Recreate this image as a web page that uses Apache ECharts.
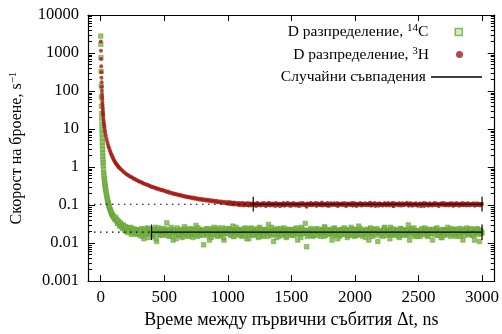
<!DOCTYPE html>
<html>
<head>
<meta charset="utf-8">
<script src="https://cdn.jsdelivr.net/npm/echarts@6/dist/echarts.min.js"></script>
<style>
  html, body { margin: 0; padding: 0; background: #fff; }
  #chart { width: 502px; height: 334px; }
</style>
</head>
<body>
<div id="chart"></div>
<script>
const FONT = "'Liberation Serif', 'DejaVu Serif', serif"

// оси
const xTicks = [0, 500, 1000, 1500, 2000, 2500, 3000]
const yTickLabels = ['0.001', '0.01', '0.1', '1', '10', '100', '1000', '10000']

const seriesNames = ['D разпределение, ¹⁴C', 'D разпределение, ³H', 'Случайни съвпадения']
const legendLabels = ['D разпределение, {sup|14}C', 'D разпределение, {sup|3}H', 'Случайни съвпадения']

const binStep = 10 // ns, стъпка на опашките

// 14C: начало (t, ns -> скорост)
const c14HeadT = [0, 1, 2, 3, 4, 5, 6, 7, 8, 9, 10, 11, 12, 13, 14, 15, 16, 17, 18, 19, 20, 22, 24, 26, 28, 30,
  32, 34, 36, 38, 40, 43, 46, 49, 52, 55, 58, 61, 64, 67, 70, 74, 78, 82, 86, 90, 95]
const c14HeadRate = [2800, 1700, 760, 330, 135, 70, 40, 26, 19, 13.5, 9.8, 7.4, 5.7, 4.5, 3.6, 2.9, 2.35, 1.9, 1.55, 1.3,
  1.08, 0.86, 0.7, 0.6, 0.5, 0.44, 0.38, 0.34, 0.3, 0.27, 0.245, 0.21, 0.185, 0.165, 0.145, 0.13, 0.118, 0.107,
  0.098, 0.091, 0.084, 0.077, 0.07, 0.065, 0.06, 0.056, 0.052]
// 14C: от 100 ns нататък, през binStep
const c14TailStart = 100
const c14TailRate = [
  0.051, 0.042, 0.044, 0.033, 0.037, 0.028, 0.031, 0.024, 0.029, 0.021,
  0.026, 0.019, 0.025, 0.022, 0.017, 0.024, 0.02, 0.023, 0.018, 0.022,
  0.021, 0.016, 0.024, 0.019, 0.013, 0.022, 0.018, 0.025, 0.017, 0.02,
  0.023, 0.015, 0.019, 0.026, 0.011, 0.021, 0.018, 0.016, 0.024, 0.02,
  0.017, 0.022, 0.034, 0.019, 0.015, 0.023, 0.02, 0.012, 0.021, 0.018,
  0.025, 0.016, 0.02, 0.022, 0.014, 0.019, 0.027, 0.017, 0.021, 0.015,
  0.019, 0.024, 0.016, 0.021, 0.018, 0.029, 0.015, 0.02, 0.023, 0.017,
  0.021, 0.009, 0.018, 0.024, 0.016, 0.02, 0.022, 0.014, 0.019, 0.026,
  0.017, 0.021, 0.015, 0.023, 0.019, 0.016, 0.025, 0.012, 0.02, 0.022,
  0.018, 0.024, 0.016, 0.02, 0.028, 0.015, 0.021, 0.019, 0.023, 0.017,
  0.02, 0.015, 0.022, 0.018, 0.025, 0.013, 0.021, 0.017, 0.024, 0.019,
  0.016, 0.023, 0.019, 0.021, 0.014, 0.026, 0.018, 0.02, 0.015, 0.022,
  0.019, 0.017, 0.031, 0.02, 0.016, 0.023, 0.011, 0.021, 0.018, 0.024,
  0.015, 0.02, 0.022, 0.017, 0.025, 0.019, 0.014, 0.021, 0.023, 0.018,
  0.022, 0.016, 0.019, 0.024, 0.018, 0.012, 0.021, 0.017, 0.026, 0.02,
  0.018, 0.033, 0.008, 0.021, 0.016, 0.023, 0.019, 0.015, 0.022, 0.02,
  0.024, 0.017, 0.02, 0.015, 0.022, 0.019, 0.027, 0.016, 0.021, 0.018,
  0.02, 0.023, 0.012, 0.018, 0.025, 0.016, 0.021, 0.019, 0.015, 0.022,
  0.017, 0.021, 0.024, 0.019, 0.014, 0.022, 0.018, 0.026, 0.016, 0.02,
  0.023, 0.016, 0.019, 0.028, 0.017, 0.021, 0.015, 0.02, 0.022, 0.018,
  0.019, 0.012, 0.024, 0.017, 0.021, 0.016, 0.023, 0.02, 0.011, 0.018,
  0.021, 0.018, 0.015, 0.025, 0.019, 0.022, 0.017, 0.02, 0.026, 0.016,
  0.018, 0.023, 0.02, 0.016, 0.021, 0.014, 0.024, 0.019, 0.022, 0.017,
  0.022, 0.017, 0.03, 0.012, 0.02, 0.024, 0.018, 0.015, 0.021, 0.019,
  0.016, 0.021, 0.019, 0.023, 0.017, 0.025, 0.02, 0.015, 0.022, 0.018,
  0.02, 0.012, 0.022, 0.018, 0.024, 0.016, 0.021, 0.019, 0.014, 0.023,
  0.018, 0.022, 0.017, 0.026, 0.02, 0.015, 0.021, 0.023, 0.019, 0.016,
  0.021, 0.018, 0.024, 0.016, 0.02, 0.012, 0.022, 0.019, 0.025, 0.017,
  0.019, 0.023, 0.016, 0.021, 0.012, 0.018, 0.024, 0.02, 0.011, 0.022,
  0.019
]
// 14C: междинните бинове, от 105 ns през binStep
const c14MidStart = 105
const c14MidRate = [
  0.046, 0.048, 0.038, 0.04, 0.032, 0.034, 0.027, 0.03, 0.025, 0.027,
  0.021, 0.024, 0.02, 0.026, 0.021, 0.019, 0.023, 0.017, 0.022, 0.019,
  0.018, 0.022, 0.015, 0.02, 0.024, 0.017, 0.021, 0.014, 0.023, 0.019,
  0.02, 0.017, 0.023, 0.013, 0.021, 0.025, 0.018, 0.022, 0.016, 0.02,
  0.024, 0.019, 0.016, 0.021, 0.018, 0.026, 0.015, 0.022, 0.019, 0.013,
  0.02, 0.017, 0.023, 0.019, 0.021, 0.015, 0.024, 0.018, 0.022, 0.016,
  0.023, 0.019, 0.014, 0.022, 0.017, 0.021, 0.025, 0.016, 0.02, 0.018,
  0.016, 0.022, 0.02, 0.018, 0.024, 0.012, 0.019, 0.023, 0.017, 0.021,
  0.022, 0.016, 0.025, 0.019, 0.021, 0.017, 0.014, 0.02, 0.024, 0.018,
  0.019, 0.023, 0.017, 0.021, 0.015, 0.02, 0.026, 0.018, 0.022, 0.016,
  0.021, 0.018, 0.024, 0.016, 0.02, 0.022, 0.013, 0.019, 0.025, 0.017,
  0.017, 0.021, 0.019, 0.024, 0.015, 0.02, 0.023, 0.018, 0.016, 0.022,
  0.023, 0.015, 0.02, 0.018, 0.026, 0.019, 0.017, 0.022, 0.014, 0.021,
  0.018, 0.024, 0.016, 0.021, 0.019, 0.023, 0.015, 0.02, 0.022, 0.017,
  0.02, 0.016, 0.022, 0.019, 0.025, 0.017, 0.021, 0.014, 0.023, 0.018,
  0.022, 0.019, 0.015, 0.021, 0.018, 0.024, 0.016, 0.02, 0.017, 0.023,
  0.016, 0.02, 0.023, 0.018, 0.021, 0.015, 0.025, 0.019, 0.022, 0.017,
  0.021, 0.018, 0.016, 0.024, 0.019, 0.022, 0.013, 0.02, 0.017, 0.023,
  0.019, 0.025, 0.017, 0.021, 0.016, 0.02, 0.023, 0.018, 0.022, 0.015,
  0.022, 0.016, 0.02, 0.018, 0.024, 0.017, 0.021, 0.019, 0.014, 0.023,
  0.017, 0.021, 0.025, 0.015, 0.019, 0.022, 0.018, 0.024, 0.02, 0.016,
  0.02, 0.018, 0.022, 0.026, 0.016, 0.021, 0.019, 0.013, 0.023, 0.018,
  0.023, 0.017, 0.019, 0.021, 0.015, 0.024, 0.018, 0.022, 0.016, 0.02,
  0.018, 0.022, 0.016, 0.02, 0.023, 0.019, 0.025, 0.017, 0.021, 0.015,
  0.021, 0.015, 0.024, 0.019, 0.017, 0.022, 0.02, 0.016, 0.023, 0.018,
  0.019, 0.023, 0.017, 0.021, 0.025, 0.016, 0.019, 0.022, 0.014, 0.02,
  0.016, 0.02, 0.022, 0.018, 0.021, 0.024, 0.017, 0.019, 0.023, 0.015,
  0.022, 0.018, 0.015, 0.024, 0.019, 0.021, 0.016, 0.022, 0.02, 0.017,
  0.02, 0.024, 0.018, 0.016, 0.022, 0.019, 0.023, 0.017, 0.021, 0.018
]

// 3H: начало
const h3HeadT = [1, 2, 3, 4, 5, 6, 7, 8, 9, 10, 11, 12, 13, 14, 15, 16, 17, 18, 19, 20, 22, 24, 26, 28, 30, 33, 36,
  40, 45, 50, 55, 60, 65, 70, 75, 80, 85, 90, 95, 100, 105, 110, 115, 120, 125, 130, 135, 140, 145]
const h3HeadRate = [2000, 1150, 700, 450, 310, 225, 170, 130, 104, 85, 71, 60, 51, 44, 38, 34, 30, 27, 24, 22, 18.5,
  15.8, 13.8, 12.2, 10.9, 9.3, 8.0, 6.8, 5.6, 4.8, 4.1, 3.6, 3.2, 2.85, 2.55, 2.3, 2.1, 1.92, 1.77, 1.63, 1.51,
  1.41, 1.32, 1.24, 1.17, 1.11, 1.06, 1.01, 0.97]
// 3H: от 150 ns нататък, през binStep
const h3TailStart = 150
const h3TailRate = [
  0.93, 0.86, 0.81, 0.74, 0.71, 0.66, 0.63, 0.59, 0.575, 0.54,
  0.53, 0.49, 0.485, 0.455, 0.445, 0.42, 0.415, 0.395, 0.385, 0.365,
  0.36, 0.34, 0.34, 0.32, 0.318, 0.3, 0.302, 0.285, 0.287, 0.27,
  0.271, 0.258, 0.258, 0.247, 0.249, 0.233, 0.234, 0.222, 0.226, 0.211,
  0.214, 0.201, 0.206, 0.193, 0.198, 0.186, 0.19, 0.178, 0.184, 0.172,
  0.177, 0.165, 0.171, 0.16, 0.165, 0.156, 0.161, 0.151, 0.158, 0.147,
  0.153, 0.143, 0.15, 0.139, 0.146, 0.136, 0.143, 0.132, 0.14, 0.129,
  0.137, 0.126, 0.134, 0.124, 0.131, 0.12, 0.129, 0.118, 0.127, 0.116,
  0.125, 0.113, 0.122, 0.112, 0.12, 0.108, 0.119, 0.107, 0.117, 0.106,
  0.116, 0.103, 0.114, 0.104, 0.113, 0.099, 0.112, 0.102, 0.111, 0.1,
  0.11, 0.099, 0.112, 0.097, 0.109, 0.101, 0.108, 0.096, 0.113, 0.1,
  0.107, 0.098, 0.112, 0.101, 0.109, 0.094, 0.106, 0.114, 0.099, 0.104,
  0.11, 0.097, 0.105, 0.113, 0.1, 0.108, 0.093, 0.107, 0.102, 0.111,
  0.099, 0.106, 0.115, 0.101, 0.095, 0.109, 0.104, 0.112, 0.098, 0.107,
  0.103, 0.11, 0.096, 0.108, 0.114, 0.1, 0.105, 0.091, 0.109, 0.102,
  0.111, 0.099, 0.106, 0.103, 0.113, 0.097, 0.108, 0.101, 0.105, 0.116,
  0.098, 0.107, 0.102, 0.11, 0.095, 0.106, 0.112, 0.1, 0.104, 0.109,
  0.101, 0.113, 0.097, 0.105, 0.108, 0.099, 0.111, 0.103, 0.094, 0.107,
  0.11, 0.1, 0.106, 0.098, 0.114, 0.104, 0.096, 0.109, 0.102, 0.112,
  0.097, 0.108, 0.103, 0.111, 0.099, 0.106, 0.101, 0.115, 0.098, 0.105,
  0.109, 0.095, 0.107, 0.102, 0.112, 0.1, 0.104, 0.097, 0.11, 0.106,
  0.101, 0.113, 0.098, 0.105, 0.108, 0.094, 0.111, 0.103, 0.107, 0.099,
  0.112, 0.104, 0.097, 0.109, 0.101, 0.106, 0.115, 0.098, 0.103, 0.11,
  0.096, 0.107, 0.102, 0.111, 0.099, 0.105, 0.108, 0.093, 0.106, 0.113,
  0.1, 0.109, 0.104, 0.097, 0.112, 0.103, 0.098, 0.107, 0.101, 0.11,
  0.105, 0.095, 0.108, 0.102, 0.114, 0.099, 0.106, 0.101, 0.109, 0.097,
  0.111, 0.103, 0.098, 0.107, 0.1, 0.113, 0.104, 0.096, 0.108, 0.102,
  0.099, 0.11, 0.105, 0.101, 0.112, 0.097, 0.106, 0.103, 0.109, 0.098,
  0.104, 0.111, 0.1, 0.107, 0.102, 0.106
]
// 3H: междинните бинове, от 1005 ns през binStep
const h3MidStart = 1005
const h3MidRate = [
  0.111, 0.118, 0.106, 0.114, 0.104, 0.112, 0.107, 0.11, 0.101, 0.109,
  0.106, 0.111, 0.098, 0.108, 0.104, 0.112, 0.097, 0.107, 0.103, 0.11,
  0.1, 0.108, 0.096, 0.111, 0.103, 0.099, 0.109, 0.105, 0.113, 0.098,
  0.106, 0.101, 0.114, 0.097, 0.108, 0.103, 0.11, 0.095, 0.107, 0.102,
  0.109, 0.104, 0.099, 0.112, 0.096, 0.106, 0.101, 0.11, 0.103, 0.108,
  0.097, 0.112, 0.105, 0.1, 0.109, 0.094, 0.107, 0.111, 0.102, 0.106,
  0.104, 0.098, 0.11, 0.106, 0.101, 0.113, 0.099, 0.105, 0.108, 0.096,
  0.112, 0.103, 0.107, 0.097, 0.11, 0.102, 0.106, 0.099, 0.114, 0.101,
  0.098, 0.109, 0.104, 0.111, 0.1, 0.107, 0.095, 0.108, 0.103, 0.11,
  0.106, 0.1, 0.112, 0.098, 0.105, 0.109, 0.102, 0.113, 0.097, 0.104,
  0.11, 0.096, 0.107, 0.103, 0.111, 0.099, 0.106, 0.101, 0.108, 0.105,
  0.102, 0.111, 0.098, 0.108, 0.104, 0.114, 0.1, 0.107, 0.096, 0.109,
  0.107, 0.099, 0.105, 0.112, 0.097, 0.103, 0.11, 0.101, 0.106, 0.113,
  0.095, 0.108, 0.102, 0.106, 0.11, 0.098, 0.104, 0.111, 0.1, 0.107,
  0.109, 0.103, 0.097, 0.112, 0.101, 0.106, 0.099, 0.108, 0.104, 0.096,
  0.105, 0.11, 0.1, 0.107, 0.094, 0.111, 0.103, 0.098, 0.109, 0.102,
  0.099, 0.106, 0.113, 0.101, 0.108, 0.097, 0.105, 0.11, 0.103, 0.107,
  0.111, 0.098, 0.104, 0.109, 0.1, 0.106, 0.112, 0.096, 0.108, 0.102,
  0.103, 0.109, 0.099, 0.105, 0.113, 0.101, 0.107, 0.097, 0.11, 0.104,
  0.108, 0.1, 0.106, 0.111, 0.098, 0.105, 0.102, 0.109, 0.097, 0.107
]

// случайни съвпадения (fit): ниво, начало на фита, граници на чертичките
const fitLevel = [0.105, 0.0195]
const fitStart = [1200, 400]
const fitEnd = 3000
const capLow = [0.068, 0.012]
const capHigh = [0.165, 0.031]

const binned = (start, rates) => rates.map((v, i) => [start + i * binStep, v])
const c14Data = c14HeadT.map((t, i) => [t, c14HeadRate[i]])
  .concat(binned(c14TailStart, c14TailRate), binned(c14MidStart, c14MidRate))
const h3Data = h3HeadT.map((t, i) => [t, h3HeadRate[i]])
  .concat(binned(h3TailStart, h3TailRate), binned(h3MidStart, h3MidRate))

const chart = echarts.init(document.getElementById('chart'), null, { renderer: 'canvas' })

const supRich = {
  sup: { fontFamily: FONT, fontSize: 11, lineHeight: 11, verticalAlign: 'top', color: '#000' },
}

const xBase = {
  type: 'value', min: -100, max: 3100,
  axisLine: { show: true, onZero: false, lineStyle: { color: '#000', width: 1.2 } },
  axisTick: { show: true, inside: true, length: 6, customValues: xTicks, lineStyle: { color: '#000' } },
  splitLine: { show: false },
}
const yBase = {
  type: 'log', logBase: 10, min: 0.001, max: 10000,
  axisLine: { show: true, onZero: false, lineStyle: { color: '#000', width: 1.2 } },
  axisTick: { show: true, inside: true, length: 7, lineStyle: { color: '#000' } },
  minorTick: { show: true, splitNumber: 9, length: 4, lineStyle: { color: '#000' } },
  splitLine: { show: false },
}

const series = [
  {
    type: 'scatter', name: seriesNames[0], data: c14Data, symbol: 'rect', symbolSize: 4.5,
    itemStyle: { color: '#7ab446', borderColor: '#5e9b33', borderWidth: 0.6 }, z: 2
  },
  {
    type: 'scatter', name: seriesNames[1], data: h3Data, symbol: 'circle', symbolSize: 4,
    itemStyle: { color: '#a11d14' }, z: 3
  },
]
fitLevel.forEach((lvl, i) => {
  series.push({
    type: 'line', name: 'guide' + i, data: [[-100, lvl], [fitStart[i], lvl]], symbol: 'none',
    lineStyle: { color: '#000', width: 1.2, type: [1.5, 4.5] }, z: 5, silent: true
  })
  series.push({
    type: 'line', name: seriesNames[2], data: [[fitStart[i], lvl], [fitEnd, lvl]], symbol: 'none',
    lineStyle: { color: '#000', width: 1.2 }, z: 6
  })
  ;[fitStart[i], fitEnd].forEach(x => {
    series.push({
      type: 'line', name: 'cap', data: [[x, capLow[i]], [x, capHigh[i]]], symbol: 'none',
      lineStyle: { color: '#000', width: 1.2 }, z: 6, silent: true
    })
  })
})

// легенда: отделен блок за всеки ред, подравнени вдясно
const legendIcon = [
  { icon: 'rect', w: 7, h: 7, right: 39, pad: 22, style: { color: '#c9e3ad', borderColor: '#6fa83f', borderWidth: 1.5 } },
  { icon: 'circle', w: 7, h: 7, right: 39, pad: 22, style: { color: '#a11d14' } },
  { icon: 'rect', w: 51, h: 1.3, right: 20, pad: 0, style: { color: '#000' } },
]

chart.setOption({
  animation: false,
  backgroundColor: '#fff',
  grid: { left: 87, right: 2, top: 15, bottom: 49 },
  legend: seriesNames.map((n, i) => ({
    data: [{ name: n, icon: legendIcon[i].icon, itemStyle: legendIcon[i].style }],
    right: legendIcon[i].right, top: 23 + i * 22.5, orient: 'vertical', align: 'right',
    itemWidth: legendIcon[i].w, itemHeight: legendIcon[i].h, padding: 0, selectedMode: false,
    formatter: () => legendLabels[i],
    textStyle: {
      fontFamily: FONT, fontSize: 15.5, lineHeight: 18, color: '#000', rich: supRich,
      padding: [0, legendIcon[i].pad, 0, 0]
    },
  })),
  xAxis: [
    {
      ...xBase, position: 'bottom',
      name: 'Време между първични събития Δt, ns', nameLocation: 'middle', nameGap: 28,
      nameTextStyle: { fontFamily: FONT, fontSize: 18, color: '#000' },
      axisLabel: {
        show: true, customValues: xTicks, margin: 8, fontFamily: FONT, fontSize: 17, color: '#000',
        formatter: v => String(v)
      },
    },
    { ...xBase, position: 'top', axisLabel: { show: false } },
  ],
  yAxis: [
    {
      ...yBase, position: 'left',
      name: 'Скорост на броене, s{sup|−1}', nameLocation: 'middle', nameGap: 62,
      nameTextStyle: { fontFamily: FONT, fontSize: 16, lineHeight: 18, color: '#000', rich: supRich },
      axisLabel: {
        show: true, margin: 9, fontFamily: FONT, fontSize: 16.5, color: '#000',
        formatter: v => yTickLabels[Math.round(Math.log10(v)) + 3],
      },
    },
    { ...yBase, position: 'right', axisLabel: { show: false } },
  ],
  series: series,
})
</script>
</body>
</html>
